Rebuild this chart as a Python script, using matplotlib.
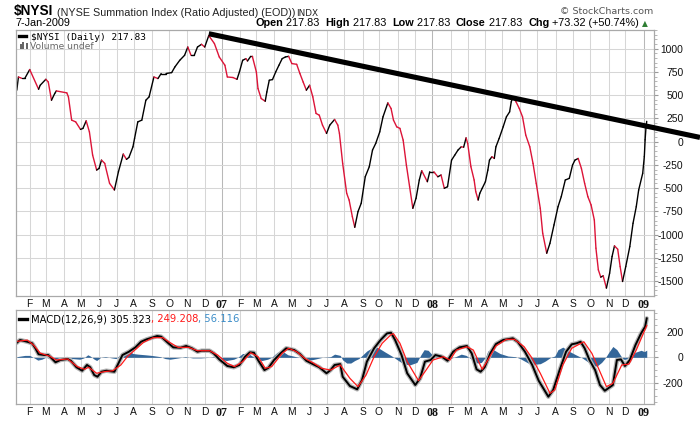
import numpy as np
import matplotlib
matplotlib.use('Agg')
import matplotlib.pyplot as plt
from matplotlib.collections import LineCollection
from matplotlib.lines import Line2D
from matplotlib.patches import Rectangle
from matplotlib.ticker import MultipleLocator

W, H = 700, 421

# $NYSI daily close at its turning points
nysi_dates = [
    '2006-01-10', '2006-01-12', '2006-01-18', '2006-01-24', '2006-02-01', '2006-02-16',
    '2006-02-20', '2006-03-01', '2006-03-06', '2006-03-10', '2006-03-16', '2006-03-20',
    '2006-04-06', '2006-04-10', '2006-04-14', '2006-04-21', '2006-05-01', '2006-05-04',
    '2006-05-10', '2006-05-16', '2006-05-22', '2006-05-29', '2006-06-01', '2006-06-06',
    '2006-06-12', '2006-06-20', '2006-06-28', '2006-07-05', '2006-07-13', '2006-07-19',
    '2006-07-24', '2006-07-31', '2006-08-02', '2006-08-08', '2006-08-15', '2006-08-22',
    '2006-08-28', '2006-09-05', '2006-09-12', '2006-09-18', '2006-09-26', '2006-10-05',
    '2006-10-11', '2006-10-19', '2006-10-27', '2006-11-02', '2006-11-08', '2006-11-14',
    '2006-11-20', '2006-11-27', '2006-12-01', '2006-12-08', '2006-12-19', '2006-12-27',
    '2007-01-05', '2007-01-10', '2007-01-19', '2007-01-26', '2007-01-31', '2007-02-06',
    '2007-02-12', '2007-02-14', '2007-02-20', '2007-02-22', '2007-03-01', '2007-03-05',
    '2007-03-09', '2007-03-16', '2007-03-20', '2007-03-23', '2007-03-29', '2007-04-04',
    '2007-04-10', '2007-04-16', '2007-04-20', '2007-04-26', '2007-05-02', '2007-05-10',
    '2007-05-16', '2007-05-22', '2007-05-28', '2007-06-01', '2007-06-07', '2007-06-13',
    '2007-06-19', '2007-06-25', '2007-07-02', '2007-07-06', '2007-07-16', '2007-07-20',
    '2007-07-24', '2007-07-30', '2007-08-06', '2007-08-09', '2007-08-15', '2007-08-20',
    '2007-08-24', '2007-08-30', '2007-09-06', '2007-09-13', '2007-09-19', '2007-09-25',
    '2007-10-02', '2007-10-08', '2007-10-16', '2007-10-22', '2007-10-25', '2007-10-31',
    '2007-11-06', '2007-11-12', '2007-11-16', '2007-11-22', '2007-11-28', '2007-12-04',
    '2007-12-10', '2007-12-13', '2007-12-24', '2007-12-27', '2008-01-03', '2008-01-10',
    '2008-01-16', '2008-01-22', '2008-01-28', '2008-02-04', '2008-02-08', '2008-02-14',
    '2008-02-20', '2008-02-25', '2008-02-28', '2008-03-03', '2008-03-07', '2008-03-13',
    '2008-03-17', '2008-03-20', '2008-03-24', '2008-03-27', '2008-04-02', '2008-04-07',
    '2008-04-09', '2008-04-14', '2008-04-17', '2008-04-21', '2008-04-25', '2008-05-02',
    '2008-05-08', '2008-05-14', '2008-05-16', '2008-05-20', '2008-05-26', '2008-05-30',
    '2008-06-05', '2008-06-11', '2008-06-18', '2008-06-24', '2008-06-30', '2008-07-07',
    '2008-07-10', '2008-07-17', '2008-07-23', '2008-07-30', '2008-08-06', '2008-08-12',
    '2008-08-19', '2008-08-26', '2008-09-01', '2008-09-04', '2008-09-10', '2008-09-16',
    '2008-09-22', '2008-09-26', '2008-10-02', '2008-10-08', '2008-10-10', '2008-10-15',
    '2008-10-20', '2008-10-23', '2008-10-29', '2008-11-04', '2008-11-07', '2008-11-12',
    '2008-11-18', '2008-11-21', '2008-11-26', '2008-12-02', '2008-12-09', '2008-12-15',
    '2008-12-19', '2008-12-24', '2008-12-31', '2009-01-02', '2009-01-05', '2009-01-06',
    '2009-01-07',
]
nysi_close = [
    553, 695, 681, 681, 775, 563,
    606, 670, 641, 445, 517, 545,
    524, 481, 231, 212, 131, 142,
    223, 105, -145, -306, -288, -199,
    -234, -449, -520, -324, -134, -191,
    -170, -56, 34, 212, 231, 445,
    481, 695, 678, 732, 732, 742,
    803, 874, 928, 1017, 928, 928,
    1017, 1046, 1017, 1140, 1054, 910,
    821, 695, 689, 670, 749, 874,
    892, 867, 917, 917, 749, 571,
    463, 434, 534, 660, 667, 749,
    821, 892, 910, 917, 839, 831,
    732, 641, 553, 606, 481, 303,
    284, 177, 88, 177, 238, 177,
    88, -234, -556, -628, -807, -921,
    -753, -663, -378, -270, -91, -19,
    105, 266, 416, 356, 231, 159,
    142, 16, -252, -485, -717, -609,
    -413, -313, -431, -324, -324, -378,
    -359, -502, -485, -199, -145, -91,
    -56, -60, 40, -19, -270, -413,
    -538, -628, -556, -502, -431, -306,
    -199, -163, -181, -56, 34, 159,
    266, 320, 427, 481, 427, 356,
    266, 70, -56, -234, -449, -717,
    -985, -1200, -1093, -896, -700, -592,
    -413, -395, -252, -199, -181, -288,
    -449, -592, -681, -842, -1146, -1379,
    -1457, -1443, -1575, -1414, -1236, -1121,
    -1157, -1343, -1504, -1343, -1128, -878,
    -700, -520, -341, -160, 20, 145,
    217.83,
]

# hand-drawn resistance line
trend_dates = ['2006-12-08', '2009-04-09']
trend_values = [1160, 45]

# MACD(12,26,9)
macd_dates = [
    '2006-01-10', '2006-01-16', '2006-01-27', '2006-02-05', '2006-02-10', '2006-02-16',
    '2006-02-25', '2006-03-06', '2006-03-11', '2006-03-17', '2006-03-26', '2006-04-07',
    '2006-04-13', '2006-04-22', '2006-05-03', '2006-05-11', '2006-05-17', '2006-05-24',
    '2006-05-30', '2006-06-06', '2006-06-14', '2006-06-28', '2006-07-06', '2006-07-12',
    '2006-07-23', '2006-08-03', '2006-08-12', '2006-08-23', '2006-09-09', '2006-09-17',
    '2006-09-29', '2006-10-09', '2006-10-20', '2006-10-31', '2006-11-09', '2006-11-18',
    '2006-11-26', '2006-12-10', '2006-12-18', '2006-12-27', '2007-01-10', '2007-01-22',
    '2007-01-31', '2007-02-09', '2007-02-18', '2007-02-25', '2007-03-05', '2007-03-15',
    '2007-03-22', '2007-03-31', '2007-04-12', '2007-04-23', '2007-05-05', '2007-05-16',
    '2007-05-28', '2007-06-07', '2007-06-19', '2007-07-02', '2007-07-08', '2007-07-16',
    '2007-07-25', '2007-07-30', '2007-08-10', '2007-08-23', '2007-08-31', '2007-09-10',
    '2007-09-21', '2007-10-03', '2007-10-14', '2007-10-20', '2007-10-28', '2007-11-08',
    '2007-11-19', '2007-12-01', '2007-12-11', '2007-12-19', '2007-12-28', '2008-01-06',
    '2008-01-17', '2008-01-28', '2008-02-06', '2008-02-18', '2008-02-29', '2008-03-10',
    '2008-03-18', '2008-03-25', '2008-04-01', '2008-04-10', '2008-04-21', '2008-05-02',
    '2008-05-20', '2008-05-28', '2008-06-10', '2008-06-22', '2008-07-03', '2008-07-12',
    '2008-07-20', '2008-07-29', '2008-08-08', '2008-08-20', '2008-08-29', '2008-09-08',
    '2008-09-14', '2008-09-22', '2008-09-30', '2008-10-09', '2008-10-17', '2008-10-26',
    '2008-11-08', '2008-11-17', '2008-11-22', '2008-11-30', '2008-12-09', '2008-12-18',
    '2008-12-27', '2009-01-03', '2009-01-07',
]
macd_values = [
    114, 136, 122, 110, 71, 24,
    18, 18, -13, -39, -21, -13,
    -27, -78, -105, -60, -78, -139,
    -152, -113, -105, -113, -34, 18,
    44, 78, 122, 141, 167, 162,
    110, 78, 75, 89, 71, 44,
    52, 52, 31, -16, -68, -78,
    -60, 5, 39, 36, -21, -100,
    -82, -21, 31, 71, 57, 26,
    -27, -53, -78, -125, -100, -60,
    -53, -152, -225, -251, -178, -34,
    71, 136, 188, 193, 136, 18,
    -125, -217, -165, -34, -21, 18,
    5, -27, 44, 78, 89, 31,
    -94, -113, -78, 31, 104, 136,
    149, 122, 44, -60, -183, -256,
    -309, -256, -100, 44, 102, 110,
    122, 71, -21, -100, -217, -262,
    -217, -21, -16, -68, -21, 96,
    188, 240, 305.323,
]

signal_dates = [
    '2006-01-10', '2006-01-27', '2006-02-08', '2006-02-19', '2006-03-08', '2006-03-20',
    '2006-04-07', '2006-04-25', '2006-05-06', '2006-05-14', '2006-05-29', '2006-06-09',
    '2006-06-25', '2006-07-09', '2006-07-20', '2006-07-31', '2006-08-17', '2006-09-03',
    '2006-09-20', '2006-10-03', '2006-10-17', '2006-11-03', '2006-11-18', '2006-12-10',
    '2006-12-23', '2007-01-10', '2007-01-23', '2007-02-06', '2007-02-20', '2007-03-05',
    '2007-03-16', '2007-03-28', '2007-04-15', '2007-04-26', '2007-05-10', '2007-05-24',
    '2007-06-07', '2007-06-22', '2007-07-08', '2007-07-25', '2007-08-10', '2007-08-24',
    '2007-09-07', '2007-09-21', '2007-10-05', '2007-10-20', '2007-10-25', '2007-11-06',
    '2007-11-19', '2007-12-07', '2007-12-19', '2008-01-02', '2008-01-19', '2008-01-31',
    '2008-02-12', '2008-02-29', '2008-03-12', '2008-03-27', '2008-04-07', '2008-04-21',
    '2008-05-08', '2008-05-22', '2008-06-07', '2008-06-22', '2008-07-06', '2008-07-23',
    '2008-07-31', '2008-08-14', '2008-08-29', '2008-09-19', '2008-10-03', '2008-10-17',
    '2008-10-29', '2008-11-10', '2008-11-25', '2008-12-06', '2008-12-19', '2008-12-31',
    '2009-01-07',
]
signal_values = [
    125, 135, 95, 33, 8, -21,
    -13, -73, -94, -78, -125, -113,
    -105, -60, 5, 44, 117, 154,
    154, 115, 78, 78, 52, 52,
    18, -47, -73, -34, 36, 5,
    -86, -73, 31, 71, 44, -8,
    -42, -86, -100, -60, -165, -230,
    -139, 5, 110, 178, 185, 110,
    -34, -183, -113, -21, 5, -21,
    57, 83, 57, -94, -21, 89,
    141, 141, 83, -8, -125, -282,
    -256, -60, 71, 122, 31, -113,
    -230, -204, -60, -53, 57, 175,
    249.208,
]

hist_dates = [
    '2006-01-10', '2006-01-24', '2006-02-01', '2006-02-10', '2006-02-15', '2006-02-22',
    '2006-03-01', '2006-03-12', '2006-03-19', '2006-03-29', '2006-04-10', '2006-04-17',
    '2006-04-28', '2006-05-05', '2006-05-12', '2006-05-17', '2006-05-24', '2006-05-29',
    '2006-06-05', '2006-06-13', '2006-06-23', '2006-06-30', '2006-07-07', '2006-07-13',
    '2006-07-22', '2006-07-30', '2006-08-08', '2006-08-20', '2006-08-31', '2006-09-15',
    '2006-09-23', '2006-10-03', '2006-10-17', '2006-10-29', '2006-11-10', '2006-11-24',
    '2006-12-10', '2006-12-20', '2006-12-27', '2007-01-09', '2007-01-20', '2007-01-29',
    '2007-02-06', '2007-02-15', '2007-02-23', '2007-03-04', '2007-03-11', '2007-03-21',
    '2007-03-28', '2007-04-06', '2007-04-17', '2007-04-25', '2007-05-09', '2007-05-21',
    '2007-05-30', '2007-06-10', '2007-06-23', '2007-07-08', '2007-07-16', '2007-07-25',
    '2007-07-30', '2007-08-06', '2007-08-11', '2007-08-20', '2007-08-25', '2007-09-01',
    '2007-09-09', '2007-09-21', '2007-09-28', '2007-10-11', '2007-10-23', '2007-11-02',
    '2007-11-12', '2007-11-22', '2007-12-05', '2007-12-12', '2007-12-18', '2007-12-25',
    '2008-01-01', '2008-01-11', '2008-01-23', '2008-01-31', '2008-02-11', '2008-02-20',
    '2008-02-28', '2008-03-11', '2008-03-19', '2008-03-26', '2008-04-02', '2008-04-07',
    '2008-04-16', '2008-04-28', '2008-05-11', '2008-05-23', '2008-06-02', '2008-06-14',
    '2008-06-24', '2008-07-07', '2008-07-15', '2008-07-24', '2008-07-31', '2008-08-06',
    '2008-08-14', '2008-08-23', '2008-09-05', '2008-09-17', '2008-09-27', '2008-10-04',
    '2008-10-12', '2008-10-21', '2008-10-26', '2008-11-03', '2008-11-10', '2008-11-17',
    '2008-11-22', '2008-11-27', '2008-12-02', '2008-12-09', '2008-12-18', '2008-12-27',
    '2009-01-02', '2009-01-07',
]
hist_values = [
    5, 15, 15, -10, -22, -15,
    0, -15, -20, -5, 0, -10,
    -15, -5, 20, 10, -15, -25,
    0, 5, -5, -10, 20, 45,
    50, 30, 25, 20, 15, 5,
    -10, -15, -5, 5, -5, -5,
    0, 5, -15, -25, -15, 0,
    30, 30, 5, -20, -25, -15,
    0, 40, 45, 20, 5, -5,
    -25, -15, 0, 5, 25, 15,
    -20, -45, -45, -25, -10, 20,
    50, 85, 75, 40, 10, -25,
    -50, -60, -40, 20, 60, 55,
    20, 5, -5, -10, 5, 25,
    15, -20, -45, -40, 0, 50,
    60, 30, 10, 5, -10, -45,
    -55, -50, -30, 0, 10, 60,
    80, 50, 20, -5, -40, -60,
    -70, -40, -10, 40, 85, 60,
    10, -15, -15, 5, 40, 55,
    45, 56.116,
]

nysi_ticks = [1000, 750, 500, 250, 0, -250, -500, -750, -1000, -1250, -1500]
macd_ticks = [200, 0, -200]
month_letters = ['J', 'F', 'M', 'A', 'M', 'J', 'J', 'A', 'S', 'O', 'N', 'D']
view_start, view_end = '2006-01-09', '2009-01-20'

# stockcharts spaces bars by trading session, not calendar day
START = np.datetime64('2006-01-02')


def session(dates):
    return np.busday_count(START, np.array(dates, dtype='datetime64[D]'))


months = np.arange('2006-02', '2009-02', dtype='datetime64[M]')
month_x = session(months.astype('datetime64[D]'))
month_labels = []
for m in months:
    yr, mo = int(str(m)[:4]), int(str(m)[5:7])
    month_labels.append('%02d' % (yr % 100) if mo == 1 else month_letters[mo - 1])

fig = plt.figure(figsize=(W / 100, H / 100), dpi=100)
fig.patch.set_facecolor('white')
plt.rcParams['font.family'] = ['Liberation Sans', 'DejaVu Sans']

ax = fig.add_axes([16 / W, 1 - 296 / H, 638 / W, 266 / H])
ax2 = fig.add_axes([16 / W, 1 - 404 / H, 638 / W, 94 / H])


def style_panel(a, yticks, ylim):
    a.set_xlim(session([view_start, view_end]))
    a.set_ylim(ylim)
    a.set_xticks(month_x)
    a.set_xticklabels(month_labels)
    a.yaxis.tick_right()
    a.set_yticks(yticks)
    a.set_yticklabels([str(t) for t in yticks], ha='right')
    a.yaxis.set_minor_locator(MultipleLocator(50))
    a.grid(True, which='major', color='#d6d6d6', lw=0.75)
    a.set_axisbelow(True)
    a.tick_params(axis='x', length=0, pad=2.5, labelsize=7.4, colors='#111111')
    a.tick_params(axis='y', which='major', length=3, pad=18.3, labelsize=7.4,
                  color='#999999', labelcolor='#111111')
    a.tick_params(axis='y', which='minor', length=1.8, color='#aaaaaa')
    for s in a.spines.values():
        s.set_color('#a9a9a9')
        s.set_linewidth(0.9)
    for lbl, gl in zip(a.get_xticklabels(), a.xaxis.get_gridlines()):
        if lbl.get_text().isdigit():
            lbl.set_fontfamily('Liberation Serif')
            lbl.set_fontweight('bold')
            lbl.set_fontsize(8.6)
            gl.set_color('#b8b8b8')


style_panel(ax, nysi_ticks, (-1660, 1200))
style_panel(ax2, macd_ticks, (-366, 371))

# price line: black on up moves, red on down moves
xs = session(nysi_dates)
pts = np.column_stack([xs, nysi_close])
segs = np.stack([pts[:-1], pts[1:]], axis=1)
cols = np.where(np.diff(nysi_close) >= 0, '#000000', '#dc1438')
ax.add_collection(LineCollection(segs, colors=cols, linewidths=1.0, capstyle='round', joinstyle='round'))

ax.plot(session(trend_dates), trend_values, color='black', lw=3.7, clip_on=False,
        solid_capstyle='butt', zorder=5)

# MACD panel
ax2.fill_between(session(hist_dates), 0, hist_values, color='#336699', lw=0)
ax2.plot(session(macd_dates), macd_values, color='#b4b4b4', lw=3.2, solid_capstyle='round')
ax2.plot(session(macd_dates), macd_values, color='black', lw=1.4)
ax2.plot(session(signal_dates), signal_values, color='#ff1a1a', lw=0.9)


def fx(px):
    return px / W


def fy(py):
    return 1 - py / H


renderer = fig.canvas.get_renderer()


def text_run(x, y, parts, size, family='Liberation Sans'):
    # pieces of differing weight/colour, one after another on a common baseline
    t = None
    for s, weight, color in parts:
        t = fig.text(fx(x), fy(y), s, size=size, weight=weight, color=color,
                     family=family, va='baseline', parse_math=False)
        x = t.get_window_extent(renderer).x1
    return x


# header
fig.text(fx(14), fy(15.5), '$NYSI', size=9.8, weight='bold', va='baseline', parse_math=False)
fig.text(fx(57), fy(15.5), '(NYSE Summation Index (Ratio Adjusted) (EOD))', size=7.75,
         va='baseline', color='#222222')
fig.text(fx(296), fy(15.5), 'INDX', size=6.4, family='DejaVu Sans', va='baseline', color='#222222')
fig.text(fx(15), fy(26.5), '7-Jan-2009', size=7.8, va='baseline')
fig.text(fx(653), fy(13.5), '\u00a9 StockCharts.com', size=6.8, family='DejaVu Sans',
         va='baseline', ha='right', color='#555555')
end_x = text_run(255, 26.5, [
    ('Open', 'bold', 'black'), (' 217.83  ', 'normal', 'black'),
    ('High', 'bold', 'black'), (' 217.83  ', 'normal', 'black'),
    ('Low', 'bold', 'black'), (' 217.83  ', 'normal', 'black'),
    ('Close', 'bold', 'black'), (' 217.83  ', 'normal', 'black'),
    ('Chg', 'bold', 'black'), (' +73.32 (+50.74%) ', 'normal', 'black'),
], 7.8)
fig.text(fx(end_x), fy(26), '\u25b2', size=5.5, family='DejaVu Sans', va='baseline',
         color='#2e7d32')

# main panel legend
fig.add_artist(Line2D([fx(19), fx(26)], [fy(36), fy(36)], color='black', lw=2.4))
fig.text(fx(31), fy(39.5), '$NYSI (Daily) 217.83', size=6.8, family='DejaVu Sans Mono',
         va='baseline', parse_math=False)
for bx, bh in zip([19.5, 22.5, 25.5], [4.5, 6.5, 5.5]):
    fig.add_artist(Rectangle((fx(bx), fy(49)), 2 / W, bh / H, color='#666666', lw=0))
fig.text(fx(30), fy(49), 'Volume undef', size=6.6, family='DejaVu Sans', va='baseline',
         color='#666666')

# MACD legend
fig.add_artist(Line2D([fx(19), fx(27)], [fy(318.5), fy(318.5)], color='black', lw=2.4))
text_run(31, 322, [
    ('MACD(12,26,9) 305.323', 'normal', 'black'),
    (', 249.208', 'normal', '#ff1a1a'),
    (', 56.116', 'normal', '#3d8ec9'),
], 7.2, family='DejaVu Sans')

fig.savefig('out.png', dpi=100, facecolor='white')
